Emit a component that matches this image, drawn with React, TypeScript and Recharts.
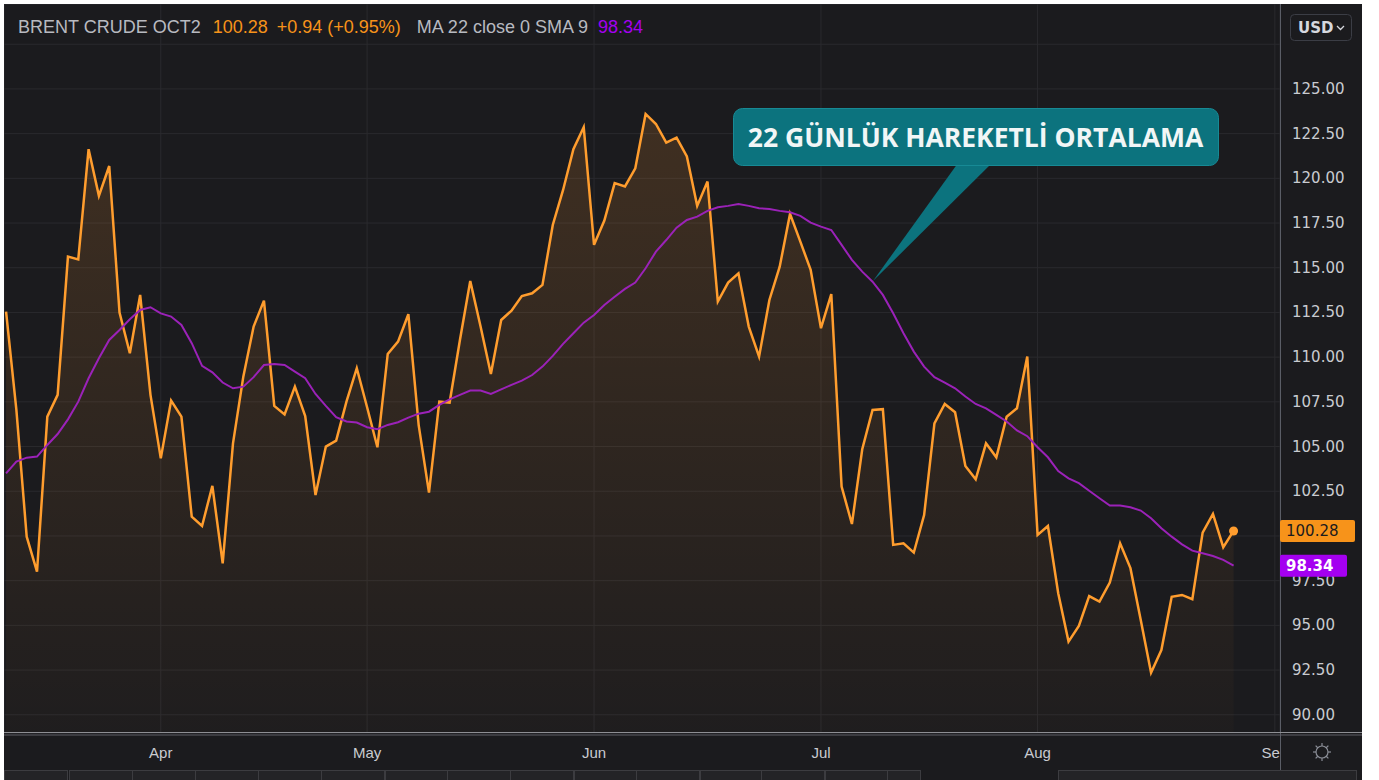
import React from 'react';
import {
  ComposedChart, Area, Line, XAxis, YAxis, CartesianGrid, ReferenceDot,
} from 'recharts';

// daily closes, Mar 11 -> Aug 26 (trading days)
const closes = [
  112.55, 107.05, 99.96, 98.0, 106.67, 107.89, 115.62, 115.47, 121.63, 119.02,
  120.69, 112.49, 110.22, 113.48, 107.89, 104.34, 107.57, 106.67, 101.08, 100.56,
  102.8, 98.47, 105.18, 108.91, 111.71, 113.16, 107.27, 106.8, 108.35, 106.71,
  102.29, 105.0, 105.33, 107.51, 109.38, 107.2, 104.96, 110.18, 110.87, 112.4,
  106.2, 102.42, 107.51, 107.46, 110.96, 114.26, 111.71, 109.06, 112.08, 112.6,
  113.42, 113.57, 114.04, 117.39, 119.35, 121.63, 122.86, 116.28, 117.64, 119.73,
  119.55, 120.56, 123.6, 123.04, 122.0, 122.28, 121.22, 118.46, 119.82, 113.11,
  114.17, 114.69, 111.71, 110.03, 113.2, 115.06, 118.01, 116.46, 114.88, 111.62,
  113.53, 102.76, 100.67, 104.85, 107.05, 107.09, 99.5, 99.59, 99.07, 101.17,
  106.3, 107.38, 106.92, 103.91, 103.17, 105.18, 104.4, 106.67, 107.14, 110.03,
  100.06, 100.56, 96.8, 94.09, 94.97, 96.64, 96.33, 97.39, 99.59, 98.2,
  95.3, 92.35, 93.62, 96.6, 96.7, 96.46, 100.19, 101.23, 99.37, 100.28,
];

// MA 22 close, smoothed SMA 9
const ma22 = [
  103.5, 104.16, 104.38, 104.44, 105.09, 105.7, 106.52, 107.51, 108.82, 109.94,
  110.96, 111.52, 112.12, 112.64, 112.79, 112.45, 112.27, 111.8, 110.78, 109.51,
  109.15, 108.58, 108.26, 108.35, 108.88, 109.56, 109.62, 109.56, 109.19, 108.82,
  107.94, 107.27, 106.64, 106.4, 106.34, 106.08, 105.97, 106.21, 106.36, 106.62,
  106.84, 106.95, 107.33, 107.64, 107.89, 108.13, 108.13, 107.94, 108.2, 108.45,
  108.69, 109.0, 109.47, 110.07, 110.74, 111.34, 111.93, 112.36, 112.92, 113.38,
  113.82, 114.17, 114.97, 115.9, 116.55, 117.24, 117.67, 117.86, 118.18, 118.38,
  118.46, 118.57, 118.46, 118.33, 118.29, 118.18, 118.1, 117.9, 117.52, 117.3,
  117.11, 116.28, 115.44, 114.78, 114.22, 113.48, 112.45, 111.34, 110.31, 109.47,
  108.88, 108.58, 108.26, 107.8, 107.38, 107.14, 106.77, 106.4, 105.9, 105.58,
  104.96, 104.4, 103.63, 103.22, 102.95, 102.53, 102.11, 101.7, 101.7, 101.6,
  101.42, 100.99, 100.43, 99.96, 99.53, 99.18, 99.03, 98.88, 98.66, 98.34,
];

const monthTickIdx = [15, 35, 57, 79, 100, 123];
const monthNames = ['Apr', 'May', 'Jun', 'Jul', 'Aug', 'Sep'];
const priceTicks = [90, 92.5, 95, 97.5, 100, 102.5, 105, 107.5, 110, 112.5, 115, 117.5, 120, 122.5, 125, 127.5];
// tick labels that TradingView hides (under the USD button / last price badge)
const hiddenPriceLabels = [100, 127.5];
const lastClose = 100.28;
const lastMa = 98.34;

const BG = '#1b1b1e';
const GRID = '#2a2a2e';
const ORANGE = '#ff9d2e';
const PURPLE = '#9b22b8';
const TEXT = '#c9cbd1';

const PLOT_W = 1276;
const PLOT_H = 729;
const Y_DOMAIN: [number, number] = [88.98, 129.75];

// same mapping as the y axis, used for the price badges drawn on top of the axis
const priceToY = (v: number) => ((Y_DOMAIN[1] - v) / (Y_DOMAIN[1] - Y_DOMAIN[0])) * PLOT_H;

const data = closes.map((c, i) => ({ i, close: c, ma: ma22[i] }));

const PriceTick = (props: any) => {
  const { x, y, payload } = props;
  if (hiddenPriceLabels.includes(payload.value)) return <g />;
  return (
    <text x={x} y={y} dy={5} fill={TEXT} fontSize={15} fontFamily="DejaVu Sans" textAnchor="start">
      {payload.value.toFixed(2)}
    </text>
  );
};

const MonthTick = (props: any) => {
  const { x, y, payload } = props;
  const label = monthNames[monthTickIdx.indexOf(payload.value)];
  return (
    <text
      x={x} y={y} dy={19} fill={TEXT} fontSize={15} fontFamily="Liberation Sans"
      textAnchor="middle" clipPath="url(#plotClipX)"
    >
      {label}
    </text>
  );
};

const Badge = ({ v, bg, fg, w, bold }: any) => {
  const cy = priceToY(v);
  return (
    <g>
      <rect x={PLOT_W} y={cy - 11} width={w} height={22} rx={2} fill={bg} />
      <text x={PLOT_W + 6} y={cy} dy={5.5} fill={fg} fontSize={15} fontFamily="DejaVu Sans" fontWeight={bold ? 'bold' : 'normal'}>
        {v.toFixed(2)}
      </text>
    </g>
  );
};

const bottomTabs = [4, 69, 132, 195, 258, 321, 385, 447, 510, 574, 636, 700, 761, 825, 887];

export default function App() {
  return (
    <div style={{ position: 'absolute', left: 0, top: 0, width: 1379, height: 780, background: '#fff', overflow: 'hidden' }}>
      <div style={{ position: 'absolute', left: 4, top: 4, width: 1358, height: 776, background: BG }}>
        <ComposedChart width={1358} height={772} data={data} margin={{ top: 0, right: 0, bottom: 0, left: 0 }}>
          <defs>
            <linearGradient id="areaFill" x1="0" y1="0" x2="0" y2="1">
              <stop offset="0%" stopColor="#ff9932" stopOpacity={0.27} />
              <stop offset="100%" stopColor="#ff9932" stopOpacity={0.03} />
            </linearGradient>
            <clipPath id="plotClipX">
              <rect x={0} y={0} width={PLOT_W} height={772} />
            </clipPath>
          </defs>
          <CartesianGrid stroke={GRID} />
          <XAxis
            type="number" dataKey="i" domain={[-0.2, 123.5]} allowDataOverflow
            ticks={monthTickIdx} interval={0} height={43}
            axisLine={false} tickLine={false} tickSize={0} tickMargin={6} tick={<MonthTick />}
          />
          <YAxis
            orientation="right" width={82} domain={Y_DOMAIN} allowDataOverflow
            ticks={priceTicks} interval={0}
            axisLine={false} tickLine={false} tickSize={0} tickMargin={12} tick={<PriceTick />}
          />
          <Area
            type="linear" dataKey="close" stroke={ORANGE} strokeWidth={2.5} fill="url(#areaFill)"
            dot={false} activeDot={false} isAnimationActive={false}
          />
          <Line
            type="linear" dataKey="ma" stroke={PURPLE} strokeWidth={2}
            dot={false} activeDot={false} isAnimationActive={false}
          />
          <ReferenceDot x={closes.length - 1} y={lastClose} r={4.5} fill={ORANGE} stroke="none" />
        </ComposedChart>

        <svg width={1358} height={776} style={{ position: 'absolute', left: 0, top: 0, pointerEvents: 'none' }}>
          <line x1={1276.5} y1={0} x2={1276.5} y2={776} stroke="#5a5d66" />
          <line x1={0} y1={728.5} x2={1358} y2={728.5} stroke="#8e8f94" />
          <line x1={0} y1={731} x2={1358} y2={731} stroke="#5e5f64" />
          <Badge v={lastClose} bg="#f7931a" fg="#1b1b1e" w={75} />
          <Badge v={lastMa} bg="#a400f0" fg="#fff" w={67} bold />
          <rect x={1286.5} y={10.5} width={61} height={26} rx={4} fill="none" stroke="#3b3d45" />
          <text x={1294} y={29} fill="#d6d8de" fontSize={15} fontWeight="bold" fontFamily="DejaVu Sans">USD</text>
          <path d="M1333 22 L1336.5 25.5 L1340 22" fill="none" stroke="#d6d8de" strokeWidth={1.3} />
          <g stroke="#8a8d96" strokeWidth={1.2} fill="none">
            <circle cx={1318} cy={748} r={6} />
            {[0, 45, 90, 135, 180, 225, 270, 315].map((a) => {
              const r = (a * Math.PI) / 180;
              return <line key={a} x1={1318 + 6 * Math.cos(r)} y1={748 + 6 * Math.sin(r)} x2={1318 + 9 * Math.cos(r)} y2={748 + 9 * Math.sin(r)} />;
            })}
          </g>
          {bottomTabs.map((x, k) => (
            <rect key={k} x={x - 4 + 0.5} y={766.5} width={k === bottomTabs.length - 1 ? 33 : 63} height={12} fill="#232326" stroke="#3c3c40" />
          ))}
          <rect x={1054.5} y={766.5} width={298} height={12} fill="#232326" stroke="#3c3c40" />

          <polygon points="954,159 988,159 869,277" fill="#0c737e" />
          <rect x={729.5} y={104.5} width={485} height={57} rx={9} fill="#0c737e" stroke="#178a95" />
          <text x={971.5} y={143} textAnchor="middle" fill="#f1f6f6" fontSize={26.5} fontWeight="bold" fontFamily="Open Sans">
            22 GÜNLÜK HAREKETLİ ORTALAMA
          </text>
        </svg>

        <div style={{ position: 'absolute', left: 14, top: 12, fontFamily: '"Liberation Sans", Arial, sans-serif', fontSize: 18, lineHeight: '22px', color: '#b8bac0', whiteSpace: 'nowrap' }}>
          <span>BRENT CRUDE OCT2</span>
          <span style={{ marginLeft: 12, color: '#f7931a' }}>100.28</span>
          <span style={{ marginLeft: 9, color: '#f7931a' }}>+0.94 (+0.95%)</span>
          <span style={{ marginLeft: 16 }}>MA 22 close 0 SMA 9</span>
          <span style={{ marginLeft: 10, color: '#a400f0' }}>98.34</span>
        </div>
      </div>
    </div>
  );
}
